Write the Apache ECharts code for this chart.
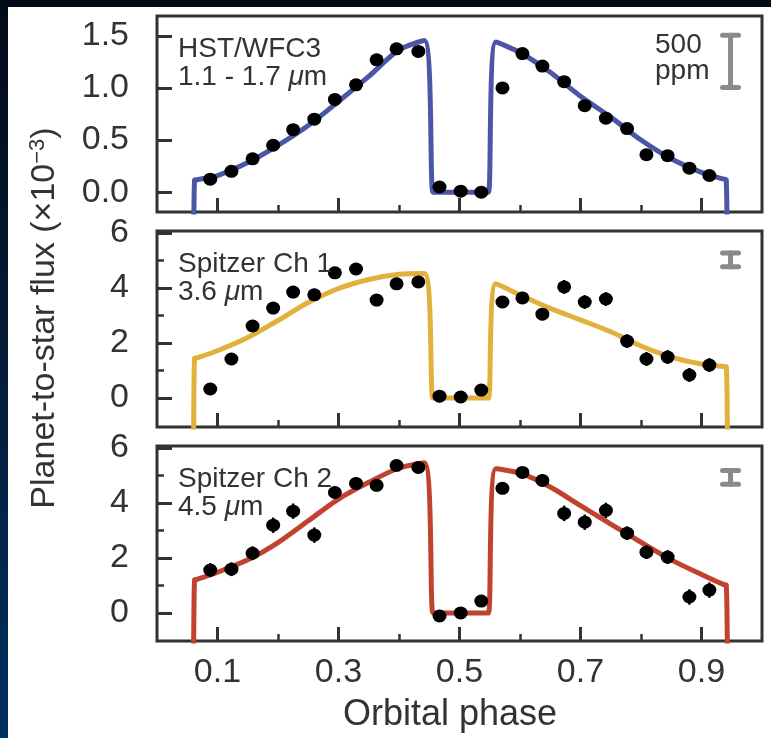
<!DOCTYPE html>
<html>
<head>
<meta charset="utf-8">
<script src="https://cdn.jsdelivr.net/npm/echarts@6/dist/echarts.min.js"></script>
<style>
html, body { margin: 0; padding: 0; }
body { width: 771px; height: 738px; position: relative; overflow: hidden;
  background: linear-gradient(to bottom, #020b18 0%, #041a36 45%, #00305f 100%); }
#paper { position: absolute; left: 8px; top: 7px; right: 0; bottom: 0; background: #fff; }
#chart { position: absolute; left: 0; top: 0; width: 771px; height: 738px; }
</style>
</head>
<body>
<div id="paper"></div>
<div id="chart"></div>
<script>
// orbital phase of the binned points (same for all three bands)
var phase = [0.088, 0.123, 0.158, 0.192, 0.225, 0.260, 0.294, 0.329, 0.363, 0.396, 0.432, 0.467, 0.502,
  0.536, 0.571, 0.604, 0.637, 0.673, 0.707, 0.742, 0.777, 0.809, 0.844, 0.880, 0.913];

var hstFlux = [0.125, 0.20, 0.32, 0.45, 0.60, 0.70, 0.89, 1.03, 1.27, 1.375, 1.35, 0.05, 0.01,
  0.0, 1.0, 1.33, 1.21, 1.06, 0.83, 0.71, 0.61, 0.36, 0.35, 0.23, 0.16];
var hstErr = [0.03, 0.03, 0.03, 0.03, 0.03, 0.03, 0.03, 0.03, 0.03, 0.03, 0.03, 0.03, 0.03,
  0.03, 0.03, 0.03, 0.03, 0.03, 0.03, 0.03, 0.03, 0.03, 0.03, 0.03, 0.03];

var ch1Flux = [0.33, 1.42, 2.62, 3.27, 3.85, 3.75, 4.55, 4.69, 3.56, 4.15, 4.22, 0.07, 0.04,
  0.29, 3.49, 3.64, 3.05, 4.04, 3.49, 3.6, 2.07, 1.42, 1.49, 0.84, 1.2];
var ch1Err = [0.22, 0.22, 0.22, 0.22, 0.22, 0.22, 0.22, 0.22, 0.22, 0.22, 0.22, 0.22, 0.22,
  0.22, 0.22, 0.22, 0.22, 0.25, 0.25, 0.25, 0.25, 0.25, 0.25, 0.25, 0.25];

var ch2Flux = [1.56, 1.59, 2.17, 3.19, 3.70, 2.83, 4.38, 4.71, 4.64, 5.36, 5.29, -0.11, 0.0,
  0.43, 4.53, 5.11, 4.82, 3.62, 3.30, 3.73, 2.90, 2.21, 2.03, 0.58, 0.83];
var ch2Err = [0.25, 0.25, 0.25, 0.28, 0.28, 0.28, 0.22, 0.22, 0.22, 0.2, 0.2, 0.2, 0.2,
  0.2, 0.2, 0.2, 0.22, 0.28, 0.28, 0.28, 0.25, 0.25, 0.25, 0.28, 0.28];

// phase curve models
var modelPhase = [0.0605, 0.062, 0.066, 0.10, 0.15, 0.20, 0.25, 0.30, 0.35, 0.40, 0.442, 0.456, 0.460,
  0.544, 0.548, 0.560, 0.60, 0.65, 0.70, 0.75, 0.80, 0.85, 0.90, 0.937, 0.941, 0.943];
var hstModel = [-1, 0.115, 0.12, 0.16, 0.285, 0.45, 0.64, 0.87, 1.11, 1.365, 1.455, 0.0, 0.0,
  0.0, 0.0, 1.44, 1.34, 1.15, 0.92, 0.72, 0.50, 0.32, 0.19, 0.125, 0.115, -1];
var ch1Model = [-3, 1.44, 1.46, 1.72, 2.2, 2.82, 3.47, 3.98, 4.31, 4.5, 4.53, 0.0, 0.0,
  0.0, 0.0, 4.15, 3.75, 3.26, 2.84, 2.41, 1.89, 1.49, 1.24, 1.15, 1.14, -3];
var ch2Model = [-3, 1.2, 1.22, 1.48, 1.93, 2.56, 3.35, 4.14, 4.75, 5.27, 5.46, 0.0, 0.0,
  0.0, 0.0, 5.24, 5.08, 4.58, 3.9, 3.23, 2.57, 1.93, 1.40, 1.03, 1.01, -3];

// 500 ppm scale bars: [phase, centre, half length]
var hstBar = [[0.948, 1.255, 0.25]];
var ch1Bar = [[0.948, 5.02, 0.25]];
var ch2Bar = [[0.948, 4.93, 0.25]];

var xMajorTicks = [0.1, 0.3, 0.5, 0.7, 0.9];
var xMinorTicks = [0.2, 0.4, 0.6, 0.8];
var hstYTicks = [0, 0.5, 1.0, 1.5];
var spitzerYTicks = [0, 2, 4, 6];
var spitzerYMinor = [1, 3, 5];

var FONT = '"Liberation Sans", Arial, sans-serif';
var INK = '#333';

var panels = [
  { top: 16, height: 196, yMin: -0.19, yMax: 1.69, yMajor: hstYTicks, yMinor: [], dec: 1,
    color: '#4b57a6', model: hstModel, flux: hstFlux, err: hstErr, bar: hstBar,
    label1: 'HST/WFC3', label2: '1.1 - 1.7 {i|μ}m' },
  { top: 231, height: 196, yMin: -1.05, yMax: 6.07, yMajor: spitzerYTicks, yMinor: spitzerYMinor, dec: 0,
    color: '#e2b13c', model: ch1Model, flux: ch1Flux, err: ch1Err, bar: ch1Bar,
    label1: 'Spitzer Ch 1', label2: '3.6 {i|μ}m' },
  { top: 446, height: 195, yMin: -1.02, yMax: 6.07, yMajor: spitzerYTicks, yMinor: spitzerYMinor, dec: 0,
    color: '#c1432f', model: ch2Model, flux: ch2Flux, err: ch2Err, bar: ch2Bar,
    label1: 'Spitzer Ch 2', label2: '4.5 {i|μ}m' }
];

var grids = [], xAxes = [], yAxes = [], series = [], graphics = [];

function errRender(params, api) {
  var x = api.value(0), y = api.value(1), e = api.value(2);
  var a = api.coord([x, y - e]), b = api.coord([x, y + e]);
  return { type: 'line', shape: { x1: a[0], y1: a[1], x2: b[0], y2: b[1] },
    style: { stroke: '#000', lineWidth: 2.5 } };
}

function barRender(params, api) {
  var x = api.value(0), y = api.value(1), h = api.value(2);
  var a = api.coord([x, y - h]), b = api.coord([x, y + h]);
  var st = { stroke: '#8a8a8a', lineWidth: 5, lineCap: 'round' };
  return { type: 'group', children: [
    { type: 'line', shape: { x1: a[0], y1: a[1], x2: b[0], y2: b[1] }, style: st },
    { type: 'line', shape: { x1: a[0] - 8, y1: a[1], x2: a[0] + 8, y2: a[1] }, style: st },
    { type: 'line', shape: { x1: b[0] - 8, y1: b[1], x2: b[0] + 8, y2: b[1] }, style: st }
  ] };
}

panels.forEach(function (p, i) {
  var last = i === panels.length - 1;
  grids.push({ left: 157, top: p.top, width: 605, height: p.height, show: true,
    borderColor: INK, borderWidth: 3, backgroundColor: 'transparent' });

  // major x ticks (with labels on the bottom panel)
  xAxes.push({ type: 'value', gridIndex: i, min: 0, max: 1, position: 'bottom',
    axisLine: { show: false, onZero: false }, splitLine: { show: false },
    axisTick: { show: true, inside: true, length: 14, customValues: xMajorTicks,
      lineStyle: { color: INK, width: 3 } },
    axisLabel: { show: last, customValues: xMajorTicks, margin: 15, color: INK,
      fontFamily: FONT, fontSize: 34, formatter: function (v) { return v.toFixed(1); } }
  });
  // minor x ticks
  xAxes.push({ type: 'value', gridIndex: i, min: 0, max: 1, position: 'bottom',
    axisLine: { show: false, onZero: false }, splitLine: { show: false }, axisLabel: { show: false },
    axisTick: { show: true, inside: true, length: 7, customValues: xMinorTicks,
      lineStyle: { color: INK, width: 2.5 } }
  });

  yAxes.push({ type: 'value', gridIndex: i, min: p.yMin, max: p.yMax, position: 'left',
    axisLine: { show: false, onZero: false }, splitLine: { show: false },
    axisTick: { show: true, inside: true, length: 15, customValues: p.yMajor,
      lineStyle: { color: INK, width: 3 } },
    axisLabel: { show: true, customValues: p.yMajor, margin: 28, color: INK,
      fontFamily: FONT, fontSize: 34, formatter: function (v) { return v.toFixed(p.dec); } }
  });
  yAxes.push({ type: 'value', gridIndex: i, min: p.yMin, max: p.yMax, position: 'left',
    axisLine: { show: false, onZero: false }, splitLine: { show: false }, axisLabel: { show: false },
    axisTick: { show: p.yMinor.length > 0, inside: true, length: 7,
      customValues: p.yMinor.length ? p.yMinor : [p.yMin],
      lineStyle: { color: INK, width: 2.5 } }
  });

  var xi = i * 2, yi = i * 2;
  series.push({ type: 'line', xAxisIndex: xi, yAxisIndex: yi, showSymbol: false, clip: true,
    silent: true, z: 2, smooth: 0.3,
    lineStyle: { color: p.color, width: 5, join: 'round' },
    data: modelPhase.map(function (x, k) { return [x, p.model[k]]; }) });
  series.push({ type: 'custom', xAxisIndex: xi, yAxisIndex: yi, renderItem: errRender, z: 3,
    data: phase.map(function (x, k) { return [x, p.flux[k], p.err[k]]; }) });
  series.push({ type: 'scatter', xAxisIndex: xi, yAxisIndex: yi, symbolSize: [14, 13], z: 4,
    itemStyle: { color: '#000', opacity: 1 },
    data: phase.map(function (x, k) { return [x, p.flux[k]]; }) });
  series.push({ type: 'custom', xAxisIndex: xi, yAxisIndex: yi, renderItem: barRender, z: 3,
    data: p.bar });

  graphics.push({ type: 'text', left: 178, top: p.top + 19, z: 10,
    style: { text: p.label1, fontFamily: FONT, fontSize: 28, fill: INK } });
  graphics.push({ type: 'text', left: 178, top: p.top + 47, z: 10,
    style: { text: p.label2, fontFamily: FONT, fontSize: 28, fill: INK,
      rich: { i: { fontStyle: 'italic', fontFamily: FONT, fontSize: 28, fill: INK } } } });
});

graphics.push({ type: 'text', left: 655, top: 31, z: 10,
  style: { text: '500\nppm', fontFamily: FONT, fontSize: 28, lineHeight: 26, fill: INK } });

graphics.push({ type: 'text', x: 45, y: 318, rotation: Math.PI / 2, z: 10,
  style: { text: 'Planet-to-star flux (×10{s|−3})', fontFamily: FONT, fontSize: 34, fill: INK,
    align: 'center', verticalAlign: 'middle',
    rich: { s: { fontSize: 22, fontFamily: FONT, fill: INK, verticalAlign: 'top', padding: [0, 0, 14, 0] } } } });

graphics.push({ type: 'text', x: 450, y: 715, z: 10,
  style: { text: 'Orbital phase', fontFamily: FONT, fontSize: 36, fill: INK,
    align: 'center', verticalAlign: 'middle' } });

var chart = echarts.init(document.getElementById('chart'));
chart.setOption({
  backgroundColor: 'transparent',
  animation: false,
  grid: grids,
  xAxis: xAxes,
  yAxis: yAxes,
  series: series,
  graphic: graphics
});
</script>
</body>
</html>
